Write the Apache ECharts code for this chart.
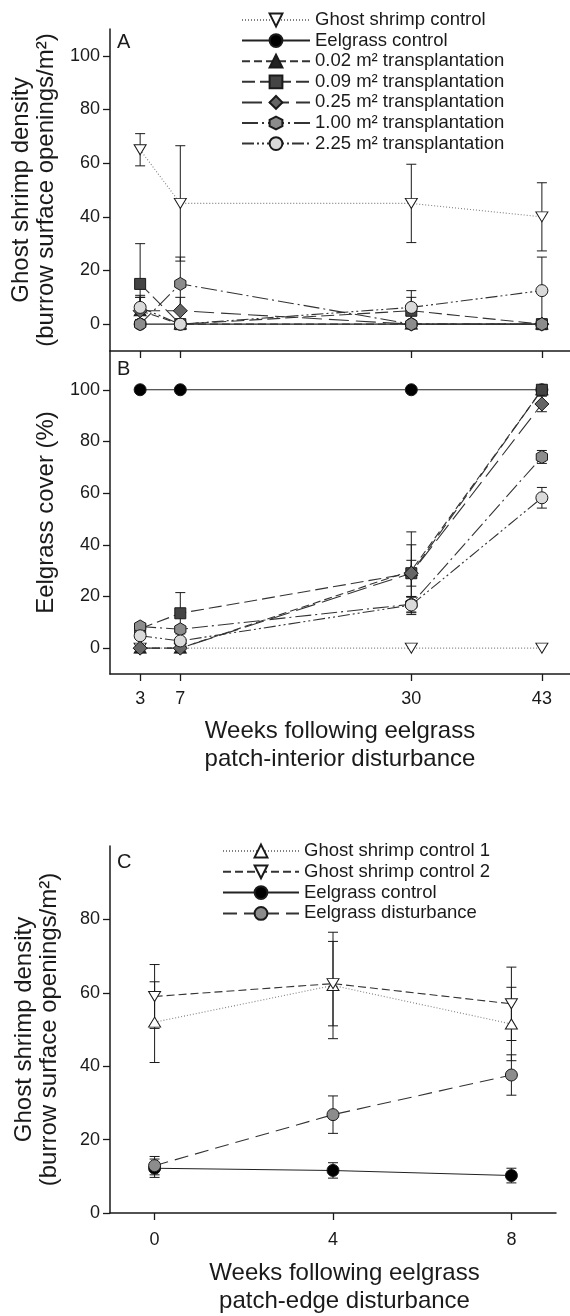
<!DOCTYPE html>
<html>
<head>
<meta charset="utf-8">
<script src="https://cdn.jsdelivr.net/npm/echarts@6/dist/echarts.min.js"></script>
<style>
html,body{margin:0;padding:0;background:#fff;}
#chart{width:570px;height:1316px;}
</style>
</head>
<body>
<div id="chart"></div>
<script>
// ---------- data ----------
const weeksInterior = [3, 7, 30, 43];
const weekTicksInterior = [3, 7, 30, 43];
const weeksEdge = [0, 4, 8];
const weekTicksEdge = [0, 4, 8];
const yTicksAB = [0, 20, 40, 60, 80, 100];
const yTicksC = [0, 20, 40, 60, 80];

const seriesNamesAB = ['Ghost shrimp control', 'Eelgrass control', '0.02 m² transplantation', '0.09 m² transplantation', '0.25 m² transplantation', '1.00 m² transplantation', '2.25 m² transplantation'];
const seriesNamesC = ['Ghost shrimp control 1', 'Ghost shrimp control 2', 'Eelgrass control', 'Eelgrass disturbance'];

// Panel A: ghost shrimp density (burrow openings / m²)
const densGhostCtrl = [65, 45, 45, 40];
const densGhostCtrlSE = [6, 21.5, 14.6, 12.7];
const densEelCtrl = [0, 0, 0, 0];
const densEelCtrlSE = [0, 0, 0, 0];
const dens002 = [5, 0, 0, 0];
const dens002SE = [5, 0, 0, 0];
const dens009 = [15, 0, 5, 0];
const dens009SE = [15, 0, 5, 0];
const dens025 = [5, 5, 0, 0];
const dens025SE = [5, 5, 0, 0];
const dens100 = [0, 15, 0, 0];
const dens100SE = [0, 10, 0, 0];
const dens225 = [6.25, 0, 6.25, 12.5];
const dens225SE = [4.5, 0, 6.25, 12.5];

// Panel B: eelgrass cover (%)
const covGhostCtrl = [0, 0, 0, 0];
const covGhostCtrlSE = [0, 0, 0, 0];
const covEelCtrl = [100, 100, 100, 100];
const covEelCtrlSE = [0, 0, 0, 0];
const cov002 = [0, 0, 30, 100];
const cov002SE = [0, 0, 10, 0];
const cov009 = [7.5, 13.5, 29, 100];
const cov009SE = [0, 8, 16, 0];
const cov025 = [0, 0, 29, 94.5];
const cov025SE = [0, 0, 5, 3];
const cov100 = [8.4, 7.3, 17, 74];
const cov100SE = [0, 0, 3, 2.5];
const cov225 = [4.8, 2.8, 16.7, 58.2];
const cov225SE = [0, 0, 3, 4];

// Panel C: ghost shrimp density, patch-edge experiment
const edgeGhost1 = [52, 62, 51.5];
const edgeGhost1SE = [11, 14.5, 10];
const edgeGhost2 = [59, 62.5, 57];
const edgeGhost2SE = [8.7, 11.5, 10];
const edgeEelCtrl = [12.2, 11.6, 10.2];
const edgeEelCtrlSE = [2.5, 2.1, 2];
const edgeDisturb = [12.9, 26.8, 37.6];
const edgeDisturbSE = [2.5, 5.1, 5.5];

// ---------- styles ----------
const FONT = 'Liberation Sans, Arial, Helvetica, sans-serif';
const INK = '#1a1a1a';
const HEX = 'path://M50,0L93.3,25L93.3,75L50,100L6.7,75L6.7,25Z';

const stylesAB = [
  {symbol: 'triangle', rot: 180, size: [12, 10], fill: '#ffffff', line: '#808080', dash: [1, 2]},
  {symbol: 'circle', rot: 0, size: 12, fill: '#000000', line: '#222222', dash: 'solid'},
  {symbol: 'triangle', rot: 0, size: [12, 10], fill: '#222222', line: '#333333', dash: [8, 4]},
  {symbol: 'rect', rot: 0, size: 11, fill: '#444444', line: '#333333', dash: [13, 5]},
  {symbol: 'diamond', rot: 0, size: 14, fill: '#666666', line: '#333333', dash: [20, 7]},
  {symbol: HEX, rot: 0, size: 13, fill: '#8c8c8c', line: '#333333', dash: [16, 4, 2, 4]},
  {symbol: 'circle', rot: 0, size: 12, fill: '#dadada', line: '#333333', dash: [12, 3, 2, 3, 2, 3]}
];
const stylesC = [
  {symbol: 'triangle', rot: 0, size: [12, 10], fill: '#ffffff', line: '#808080', dash: [1, 2]},
  {symbol: 'triangle', rot: 180, size: [12, 10], fill: '#ffffff', line: '#333333', dash: [8, 4]},
  {symbol: 'circle', rot: 0, size: 12, fill: '#000000', line: '#222222', dash: 'solid'},
  {symbol: 'circle', rot: 0, size: 12, fill: '#8c8c8c', line: '#333333', dash: [14, 7]}
];

function pairs(xs, ys) { return xs.map((x, i) => [x, ys[i]]); }
function triples(xs, ys, es) { return xs.map((x, i) => [x, ys[i], es[i]]); }

function lineSeries(name, st, xs, ys, gi) {
  return {
    type: 'line', name: name, xAxisIndex: gi, yAxisIndex: gi,
    data: pairs(xs, ys),
    symbol: st.symbol, symbolRotate: st.rot, symbolSize: st.size, symbolKeepAspect: true,
    showAllSymbol: true,
    lineStyle: {color: st.line, width: 1.1, type: st.dash},
    itemStyle: {color: st.fill, borderColor: INK, borderWidth: 1, opacity: 1},
    emphasis: {disabled: true},
    z: 3, animation: false
  };
}

function errRender(params, api) {
  const x = api.value(0), y = api.value(1), e = api.value(2);
  if (!e) return null;
  const t = api.coord([x, y + e]);
  const b = api.coord([x, y - e]);
  const hw = 5;
  const st = {stroke: INK, lineWidth: 1};
  return {
    type: 'group',
    children: [
      {type: 'line', shape: {x1: t[0], y1: t[1], x2: b[0], y2: b[1]}, style: st},
      {type: 'line', shape: {x1: t[0] - hw, y1: t[1], x2: t[0] + hw, y2: t[1]}, style: st},
      {type: 'line', shape: {x1: b[0] - hw, y1: b[1], x2: b[0] + hw, y2: b[1]}, style: st}
    ]
  };
}
function errSeries(xs, ys, es, gi) {
  return {
    type: 'custom', xAxisIndex: gi, yAxisIndex: gi,
    data: triples(xs, ys, es), renderItem: errRender, z: 2, silent: true,
    clip: false, animation: false
  };
}

const axisLineSt = {lineStyle: {color: INK, width: 1.5}};
const tickSt = {color: INK, width: 1.3};

const series = [];
const densAll = [[densGhostCtrl, densGhostCtrlSE], [densEelCtrl, densEelCtrlSE], [dens002, dens002SE], [dens009, dens009SE], [dens025, dens025SE], [dens100, dens100SE], [dens225, dens225SE]];
const covAll = [[covGhostCtrl, covGhostCtrlSE], [covEelCtrl, covEelCtrlSE], [cov002, cov002SE], [cov009, cov009SE], [cov025, cov025SE], [cov100, cov100SE], [cov225, cov225SE]];
const edgeAll = [[edgeGhost1, edgeGhost1SE], [edgeGhost2, edgeGhost2SE], [edgeEelCtrl, edgeEelCtrlSE], [edgeDisturb, edgeDisturbSE]];

densAll.forEach((d) => series.push(errSeries(weeksInterior, d[0], d[1], 0)));
covAll.forEach((d) => series.push(errSeries(weeksInterior, d[0], d[1], 1)));
edgeAll.forEach((d) => series.push(errSeries(weeksEdge, d[0], d[1], 2)));
densAll.forEach((d, i) => series.push(lineSeries(seriesNamesAB[i], stylesAB[i], weeksInterior, d[0], 0)));
covAll.forEach((d, i) => series.push(lineSeries(seriesNamesAB[i], stylesAB[i], weeksInterior, d[0], 1)));
edgeAll.forEach((d, i) => series.push(lineSeries(seriesNamesC[i], stylesC[i], weeksEdge, d[0], 2)));

const labelSt = {color: INK, fontSize: 18, fontFamily: FONT};
const nameSt = {color: INK, fontSize: 24, fontFamily: FONT};

const option = {
  animation: false,
  backgroundColor: '#ffffff',
  textStyle: {fontFamily: FONT},
  grid: [
    {left: 110, top: 29, width: 460, height: 322},
    {left: 110, top: 351, width: 460, height: 323},
    {left: 110, top: 846, width: 446, height: 378}
  ],
  xAxis: [
    {type: 'value', gridIndex: 0, min: 0, max: 45.8,
     axisLine: Object.assign({onZero: false}, axisLineSt),
     axisTick: {show: true, customValues: weekTicksInterior, length: 7, lineStyle: tickSt},
     axisLabel: {show: false}, splitLine: {show: false}},
    {type: 'value', gridIndex: 1, min: 0, max: 45.8,
     axisLine: Object.assign({onZero: false}, axisLineSt),
     axisTick: {show: true, customValues: weekTicksInterior, length: 7, lineStyle: tickSt},
     axisLabel: Object.assign({customValues: weekTicksInterior, margin: 16}, labelSt),
     splitLine: {show: false},
     name: 'Weeks following eelgrass\npatch-interior disturbance',
     nameLocation: 'middle', nameGap: 43,
     nameTextStyle: Object.assign({lineHeight: 28}, nameSt)},
    {type: 'value', gridIndex: 2, min: -1, max: 9,
     axisLine: Object.assign({onZero: false}, axisLineSt),
     axisTick: {show: true, customValues: weekTicksEdge, length: 7, lineStyle: tickSt},
     axisLabel: Object.assign({customValues: weekTicksEdge, margin: 18}, labelSt),
     splitLine: {show: false},
     name: 'Weeks following eelgrass\npatch-edge disturbance',
     nameLocation: 'middle', nameGap: 46,
     nameTextStyle: Object.assign({lineHeight: 28, padding: [0, 0, 0, 23]}, nameSt)}
  ],
  yAxis: [
    {type: 'value', gridIndex: 0, min: -10, max: 110,
     axisLine: Object.assign({show: true, onZero: false}, axisLineSt),
     axisTick: {show: true, customValues: yTicksAB, length: 7, lineStyle: tickSt},
     axisLabel: Object.assign({customValues: yTicksAB, margin: 10}, labelSt),
     splitLine: {show: false},
     name: 'Ghost shrimp density\n(burrow surface openings/m²)',
     nameLocation: 'middle', nameGap: 48,
     nameTextStyle: Object.assign({lineHeight: 25}, nameSt)},
    {type: 'value', gridIndex: 1, min: -10, max: 115,
     axisLine: Object.assign({show: true, onZero: false}, axisLineSt),
     axisTick: {show: true, customValues: yTicksAB, length: 7, lineStyle: tickSt},
     axisLabel: Object.assign({customValues: yTicksAB, margin: 10}, labelSt),
     splitLine: {show: false},
     name: 'Eelgrass cover (%)',
     nameLocation: 'middle', nameGap: 46,
     nameTextStyle: Object.assign({lineHeight: 25}, nameSt)},
    {type: 'value', gridIndex: 2, min: 0, max: 100,
     axisLine: Object.assign({show: true, onZero: false}, axisLineSt),
     axisTick: {show: true, customValues: yTicksC, length: 7, lineStyle: tickSt},
     axisLabel: Object.assign({customValues: yTicksC, margin: 10}, labelSt),
     splitLine: {show: false},
     name: 'Ghost shrimp density\n(burrow surface openings/m²)',
     nameLocation: 'middle', nameGap: 48,
     nameTextStyle: Object.assign({lineHeight: 25}, nameSt)}
  ],
  legend: [
    {data: seriesNamesAB, orient: 'vertical', left: 241, top: 10.5, padding: 0,
     itemWidth: 68, itemHeight: 16, itemGap: 1.6, selectedMode: false,
     textStyle: {color: INK, fontSize: 18.5, fontFamily: FONT, lineHeight: 16}},
    {data: seriesNamesC, orient: 'vertical', left: 222, top: 841.5, padding: 0,
     itemWidth: 76, itemHeight: 16, itemGap: 1.8, selectedMode: false,
     textStyle: {color: INK, fontSize: 18.5, fontFamily: FONT, lineHeight: 16}}
  ],
  graphic: [
    {type: 'text', x: 117, y: 42, style: {text: 'A', font: '20px ' + FONT, fill: INK, textVerticalAlign: 'middle'}},
    {type: 'text', x: 117, y: 369, style: {text: 'B', font: '20px ' + FONT, fill: INK, textVerticalAlign: 'middle'}},
    {type: 'text', x: 117, y: 862, style: {text: 'C', font: '20px ' + FONT, fill: INK, textVerticalAlign: 'middle'}}
  ],
  series: series
};

const chart = echarts.init(document.getElementById('chart'), null, {renderer: 'canvas'});
chart.setOption(option);
</script>
</body>
</html>
